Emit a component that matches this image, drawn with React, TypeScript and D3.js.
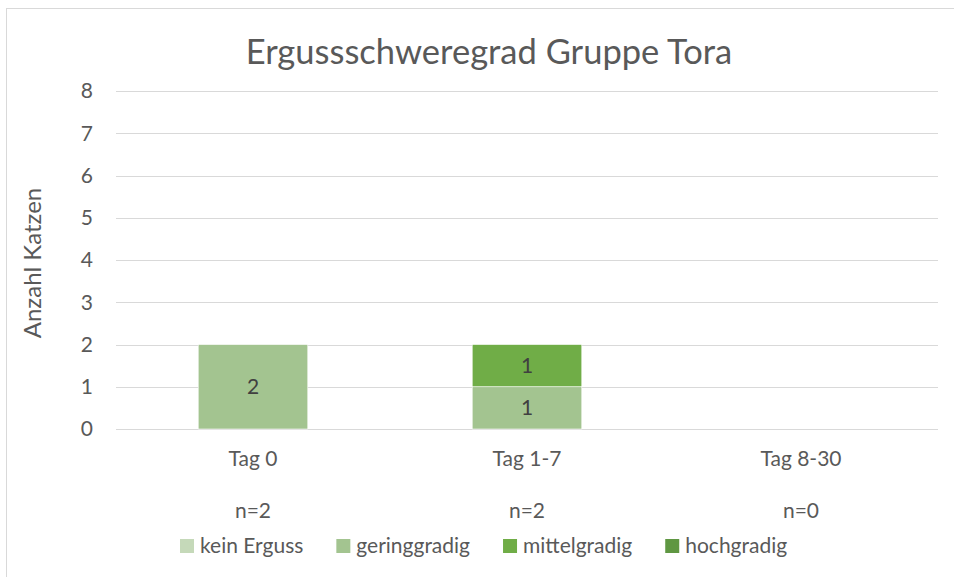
import React, { useEffect, useRef } from "react";
import * as d3 from "d3";

// Chart data
const categories = ["Tag 0", "Tag 1-7", "Tag 8-30"];
const nLabels = ["n=2", "n=2", "n=0"];
const seriesNames = ["kein Erguss", "geringgradig", "mittelgradig", "hochgradig"];
const keinErguss = [0, 0, 0];
const geringgradig = [2, 1, 0];
const mittelgradig = [0, 1, 0];
const hochgradig = [0, 0, 0];
const yTicks = [0, 1, 2, 3, 4, 5, 6, 7, 8];
const colors = ["#c5d9b9", "#a3c490", "#70ad47", "#5f9742"];

const FONT = "Lato, 'Open Sans', sans-serif";
const TEXT = "#595959";
const LABEL_SIZE = "21px";

const App = () => {
  const svgRef = useRef<SVGSVGElement>(null);

  useEffect(() => {
    const width = 954;
    const height = 577;
    const margin = { top: 91, right: 16, bottom: 148, left: 116 };
    const innerW = width - margin.left - margin.right;
    const innerH = height - margin.top - margin.bottom;

    const svg = d3.select(svgRef.current);
    svg.selectAll("*").remove();
    svg.attr("width", width).attr("height", height).style("font-family", FONT);

    // chart frame
    svg
      .append("rect")
      .attr("x", 6.5)
      .attr("y", 8.5)
      .attr("width", width)
      .attr("height", height)
      .attr("fill", "#fff")
      .attr("stroke", "#d9d9d9");

    svg
      .append("text")
      .attr("x", 489)
      .attr("y", 64)
      .attr("text-anchor", "middle")
      .style("font-size", "34.5px")
      .style("fill", TEXT)
      .text("Ergussschweregrad Gruppe Tora");

    const g = svg.append("g").attr("transform", `translate(${margin.left},${margin.top})`);

    const x = d3.scaleBand().domain(categories).range([0, innerW]).paddingInner(0.6).paddingOuter(0.3);
    const y = d3.scaleLinear().domain([0, 8]).range([innerH, 0]);

    // grid
    g.selectAll(".grid")
      .data(yTicks)
      .enter()
      .append("line")
      .attr("x1", 0)
      .attr("x2", innerW)
      .attr("y1", (d) => Math.round(y(d)) + 0.5)
      .attr("y2", (d) => Math.round(y(d)) + 0.5)
      .attr("stroke", "#d9d9d9")
      .attr("stroke-width", 1);

    // y tick labels
    g.selectAll(".ytick")
      .data(yTicks)
      .enter()
      .append("text")
      .attr("x", -23)
      .attr("y", (d) => y(d))
      .attr("dy", "0.35em")
      .attr("text-anchor", "end")
      .style("font-size", LABEL_SIZE)
      .style("fill", TEXT)
      .text((d) => d);

    // y axis title
    svg
      .append("text")
      .attr("transform", `translate(41,${margin.top + 172}) rotate(-90)`)
      .attr("text-anchor", "middle")
      .style("font-size", "24px")
      .style("fill", TEXT)
      .text("Anzahl Katzen");

    // stacked bars
    const rows = categories.map((c, i) => ({
      cat: c,
      s0: keinErguss[i],
      s1: geringgradig[i],
      s2: mittelgradig[i],
      s3: hochgradig[i],
    }));
    const stack = d3.stack<any>().keys(["s0", "s1", "s2", "s3"])(rows);

    stack.forEach((layer, si) => {
      layer.forEach((seg) => {
        const v = seg[1] - seg[0];
        if (v <= 0) return;
        const cat = (seg.data as any).cat;
        g.append("rect")
          .attr("x", x(cat)!)
          .attr("y", y(seg[1]))
          .attr("width", x.bandwidth())
          .attr("height", y(seg[0]) - y(seg[1]))
          .attr("fill", colors[si])
          .attr("stroke", "#fff")
          .attr("stroke-width", 0.6);
        g.append("text")
          .attr("x", x(cat)! + x.bandwidth() / 2)
          .attr("y", (y(seg[0]) + y(seg[1])) / 2)
          .attr("dy", "0.35em")
          .attr("text-anchor", "middle")
          .style("font-size", LABEL_SIZE)
          .style("fill", "#404040")
          .text(v);
      });
    });

    // category labels
    g.selectAll(".xtick")
      .data(categories)
      .enter()
      .append("text")
      .attr("x", (d) => x(d)! + x.bandwidth() / 2)
      .attr("y", innerH + 37)
      .attr("text-anchor", "middle")
      .style("font-size", LABEL_SIZE)
      .style("fill", TEXT)
      .text((d) => d);

    g.selectAll(".ntick")
      .data(categories)
      .enter()
      .append("text")
      .attr("x", (d) => x(d)! + x.bandwidth() / 2)
      .attr("y", innerH + 89)
      .attr("text-anchor", "middle")
      .style("font-size", LABEL_SIZE)
      .style("fill", TEXT)
      .text((d, i) => nLabels[i]);

    // legend
    const legend = svg.append("g").attr("transform", "translate(180,539)");
    let lx = 0;
    seriesNames.forEach((name, i) => {
      const item = legend.append("g").attr("transform", `translate(${lx},0)`);
      item.append("rect").attr("width", 14).attr("height", 14).attr("fill", colors[i]);
      const t = item
        .append("text")
        .attr("x", 20)
        .attr("y", 14)
        .style("font-size", LABEL_SIZE)
        .style("fill", TEXT)
        .text(name);
      const w = (t.node() as SVGTextElement).getComputedTextLength();
      lx += 20 + w + 33;
    });
  }, []);

  return <svg ref={svgRef} style={{ display: "block", position: "absolute", left: 0, top: 0 }} />;
};

export default App;
